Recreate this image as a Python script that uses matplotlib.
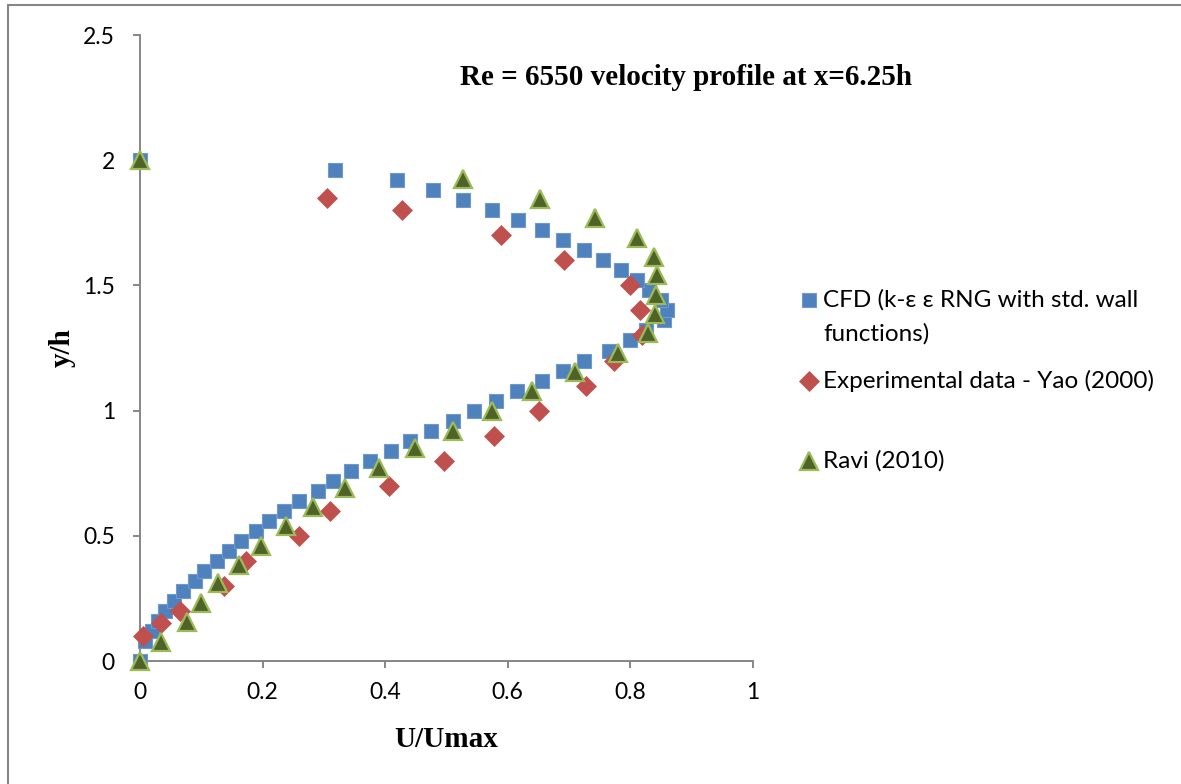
import matplotlib
matplotlib.use("Agg")
import matplotlib.pyplot as plt
from matplotlib.lines import Line2D
from matplotlib.patches import Rectangle

# CFD (k-eps RNG) profile
cfd_u = [0.0, 0.008, 0.02, 0.03, 0.04, 0.055, 0.07, 0.09, 0.105, 0.125, 0.145, 0.165,
         0.19, 0.21, 0.235, 0.26, 0.29, 0.315, 0.345, 0.375, 0.41, 0.44, 0.475, 0.51,
         0.545, 0.58, 0.615, 0.655, 0.69, 0.725, 0.765, 0.80, 0.825, 0.854, 0.86, 0.85,
         0.83, 0.81, 0.784, 0.756, 0.724, 0.69, 0.655, 0.616, 0.574, 0.527, 0.478, 0.42,
         0.318, 0.0]
cfd_y = [0.0, 0.08, 0.12, 0.16, 0.2, 0.24, 0.28, 0.32, 0.36, 0.4, 0.44, 0.48,
         0.52, 0.56, 0.6, 0.64, 0.68, 0.72, 0.76, 0.8, 0.84, 0.88, 0.92, 0.96,
         1.0, 1.04, 1.08, 1.12, 1.16, 1.2, 1.24, 1.28, 1.32, 1.36, 1.40, 1.44,
         1.48, 1.52, 1.56, 1.60, 1.64, 1.68, 1.72, 1.76, 1.80, 1.84, 1.88, 1.92,
         1.96, 2.0]

# experimental data, Yao (2000)
exp_u = [0.005, 0.035, 0.065, 0.137, 0.173, 0.26, 0.31, 0.406, 0.496, 0.578, 0.651,
         0.727, 0.773, 0.819, 0.816, 0.80, 0.692, 0.589, 0.427, 0.305]
exp_y = [0.1, 0.15, 0.2, 0.3, 0.4, 0.5, 0.6, 0.7, 0.8, 0.9, 1.0,
         1.1, 1.2, 1.3, 1.4, 1.5, 1.6, 1.7, 1.8, 1.85]

# Ravi (2010)
ravi_u = [0.0, 0.035, 0.077, 0.1, 0.127, 0.161, 0.197, 0.238, 0.283, 0.334, 0.39,
          0.449, 0.51, 0.575, 0.64, 0.709, 0.78, 0.828, 0.84, 0.842, 0.843, 0.838,
          0.81, 0.743, 0.652, 0.527, 0.0]
ravi_y = [0.0, 0.077, 0.154, 0.23, 0.31, 0.385, 0.46, 0.54, 0.615, 0.69, 0.77,
          0.85, 0.92, 1.0, 1.077, 1.154, 1.23, 1.31, 1.385, 1.46, 1.54, 1.615,
          1.69, 1.77, 1.846, 1.925, 2.0]

x_ticks = [0, 0.2, 0.4, 0.6, 0.8, 1]
x_labels = ["0", "0.2", "0.4", "0.6", "0.8", "1"]
y_ticks = [0, 0.5, 1, 1.5, 2, 2.5]
y_labels = ["0", "0.5", "1", "1.5", "2", "2.5"]

blue = "#4F81BD"
red = "#C0504D"
tri_face = "#4F6228"
tri_edge = "#9BBB59"
axis_gray = "#868686"

plt.rcParams["font.family"] = ["Lato", "DejaVu Sans"]
W, H = 1181, 784
fig = plt.figure(figsize=(W / 100, H / 100), dpi=100)
ax = fig.add_axes([140 / W, 1 - 661 / H, 613 / W, 626 / H])

ax.plot(cfd_u, cfd_y, linestyle="none", marker="s", ms=10.5, mfc=blue,
        mec="#6F99CC", mew=0.8, clip_on=False, zorder=3)
ax.plot(exp_u, exp_y, linestyle="none", marker="D", ms=10.2, mfc=red,
        mec=red, mew=0.5, clip_on=False, zorder=4)
ax.plot(ravi_u, ravi_y, linestyle="none", marker="^", ms=12.5, mfc=tri_face,
        mec=tri_edge, mew=1.6, clip_on=False, zorder=5)

ax.set_xlim(0, 1)
ax.set_ylim(0, 2.5)
ax.set_xticks(x_ticks)
ax.set_xticklabels(x_labels)
ax.set_yticks(y_ticks)
ax.set_yticklabels(y_labels)
for s in ["top", "right"]:
    ax.spines[s].set_visible(False)
for s in ["left", "bottom"]:
    ax.spines[s].set_color(axis_gray)
    ax.spines[s].set_linewidth(1.4)
ax.tick_params(axis="both", direction="out", length=5, width=1.4, color=axis_gray,
               labelsize=16.5, labelcolor="black")
ax.tick_params(axis="y", pad=13)
ax.tick_params(axis="x", pad=10)

ax.set_xlabel("U/Umax", fontfamily="Liberation Serif", fontweight="bold",
              fontsize=21, labelpad=17)
ax.set_ylabel("y/h", fontfamily="Liberation Serif", fontweight="bold",
              fontsize=21, labelpad=5)

fig.text(686 / W, 1 - 85 / H, "Re = 6550 velocity profile at x=6.25h",
         fontfamily="Liberation Serif", fontweight="bold", fontsize=21,
         ha="center", va="baseline")

# legend, laid out by hand like the original Excel legend
leg_x = 809 / W
txt_x = 823 / W
lfs = 17.5
fig.add_artist(Line2D([leg_x], [1 - 300 / H], transform=fig.transFigure,
                      marker="s", ms=10.5, mfc=blue, mec="#6F99CC", mew=0.8,
                      linestyle="none"))
fig.text(txt_x, 1 - 307 / H, "CFD (k-\u03b5 \u03b5 RNG with std. wall",
         fontsize=lfs, va="baseline")
fig.text(txt_x, 1 - 341 / H, "functions)", fontsize=lfs, va="baseline")
fig.add_artist(Line2D([leg_x], [1 - 381 / H], transform=fig.transFigure,
                      marker="D", ms=10.2, mfc=red, mec=red, mew=0.5,
                      linestyle="none"))
fig.text(txt_x, 1 - 388 / H, "Experimental data - Yao (2000)", fontsize=lfs,
         va="baseline")
fig.add_artist(Line2D([leg_x], [1 - 461 / H], transform=fig.transFigure,
                      marker="^", ms=12.5, mfc=tri_face, mec=tri_edge, mew=1.6,
                      linestyle="none"))
fig.text(txt_x, 1 - 468 / H, "Ravi (2010)", fontsize=lfs, va="baseline")

# outer chart border (only top and left edges are inside the picture)
fig.add_artist(Rectangle((8 / W, -0.1), 1.2, 1.1 - 5 / H, transform=fig.transFigure,
                         fill=False, edgecolor=axis_gray, linewidth=1.5))

fig.savefig("out.png", dpi=100)
